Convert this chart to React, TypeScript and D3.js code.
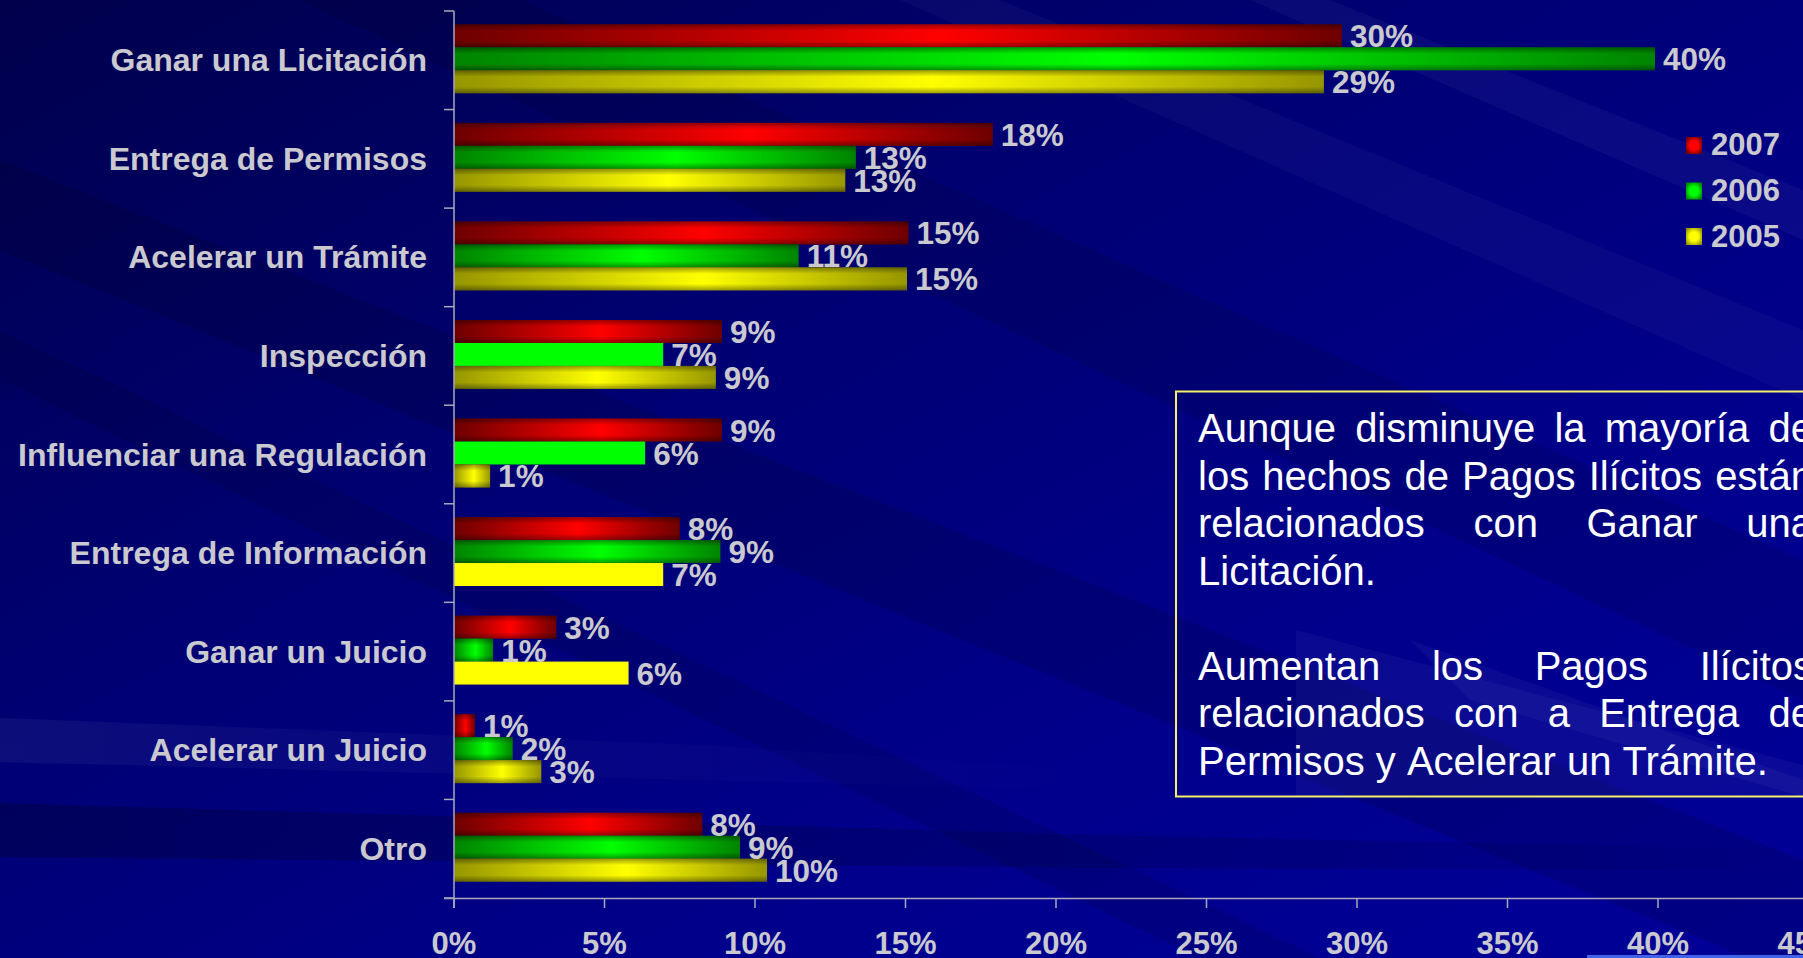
import React, { useMemo } from "react";
import * as d3 from "d3";

// ---------- data ----------
const categories = [
  "Ganar una Licitación",
  "Entrega de Permisos",
  "Acelerar un Trámite",
  "Inspección",
  "Influenciar una Regulación",
  "Entrega de Información",
  "Ganar un Juicio",
  "Acelerar un Juicio",
  "Otro",
];
const series = ["2007", "2006", "2005"];
const values2007 = [29.5, 17.9, 15.1, 8.9, 8.9, 7.5, 3.4, 0.7, 8.25];
const values2006 = [39.9, 13.35, 11.45, 6.95, 6.35, 8.85, 1.3, 1.95, 9.5];
const values2005 = [28.9, 13.0, 15.05, 8.7, 1.2, 6.95, 5.8, 2.9, 10.4];
const labels2007 = ["30%", "18%", "15%", "9%", "9%", "8%", "3%", "1%", "8%"];
const labels2006 = ["40%", "13%", "11%", "7%", "6%", "9%", "1%", "2%", "9%"];
const labels2005 = ["29%", "13%", "15%", "9%", "1%", "7%", "6%", "3%", "10%"];
const xTicks = [0, 5, 10, 15, 20, 25, 30, 35, 40, 45];
const noteParagraph1 = [
  "Aunque disminuye la mayoría de",
  "los hechos de Pagos Ilícitos están",
  "relacionados con Ganar una",
  "Licitación.",
];
const noteParagraph2 = [
  "Aumentan los Pagos Ilícitos",
  "relacionados con a Entrega de",
  "Permisos y Acelerar un Trámite.",
];

// ---------- styles ----------
const seriesDark = ["#6e0000", "#008400", "#969600"];
const seriesBright = ["#ff0000", "#00ff00", "#ffff00"];
const flatBars = ["3-1", "4-1", "5-2", "6-2"]; // category-series drawn in solid colour
const W = 1803;
const H = 958;
const FONT = "'Liberation Sans', Arial, Helvetica, sans-serif";
const LABEL_COLOR = "#c9c9cf";
const AXIS_COLOR = "#a9a9bd";

let _ctx: CanvasRenderingContext2D | null = null;
function measure(text: string, font: string) {
  if (!_ctx) _ctx = document.createElement("canvas").getContext("2d");
  if (!_ctx) return text.length * 20;
  _ctx.font = font;
  return _ctx.measureText(text).width;
}

export default function App() {
  const valuesBySeries = [values2007, values2006, values2005];
  const labelsBySeries = [labels2007, labels2006, labels2005];

  const x = d3.scaleLinear().domain([0, 45]).range([454, 454 + 45 * 30.1]);
  const y = d3.scaleBand<string>().domain(categories).range([11, 898]).padding(0);
  const step = y.step();
  const barH = step * 0.233;
  const sub = d3.scaleBand<string>().domain(series).range([0, barH * 3]).padding(0);
  const groupOffset = (step - barH * 3) / 2 - 1.5;

  const boundaries = [...categories.map((c) => y(c) as number), 898];

  // note box text layout (justified)
  const noteFont = `40px ${FONT}`;
  const noteLeft = 1198;
  const noteRight = 1813;
  const lineGap = 47.5;
  const noteLines = useMemo(() => {
    const out: { words: { t: string; x: number }[]; y: number }[] = [];
    const paras = [noteParagraph1, noteParagraph2];
    let ly = 442;
    paras.forEach((p, pi) => {
      p.forEach((line, li) => {
        const words = line.split(" ");
        const widths = words.map((w) => measure(w, noteFont));
        const justify = li < p.length - 1 && words.length > 1;
        const space = measure(" ", noteFont);
        const total = widths.reduce((a, b) => a + b, 0);
        const gap = justify ? (noteRight - noteLeft - total) / (words.length - 1) : space;
        let cx = noteLeft;
        const placed = words.map((w, i) => {
          const r = { t: w, x: cx };
          cx += widths[i] + gap;
          return r;
        });
        out.push({ words: placed, y: ly });
        ly += lineGap;
      });
      if (pi === 0) ly += lineGap;
    });
    return out;
  }, []);

  return (
    <svg
      width={W}
      height={H}
      viewBox={`0 0 ${W} ${H}`}
      style={{ position: "absolute", left: 0, top: 0, display: "block" }}
    >
      <defs>
        <linearGradient id="bg" x1="0" y1="0" x2="1" y2="1">
          <stop offset="0" stopColor="#00004c" />
          <stop offset="0.35" stopColor="#000070" />
          <stop offset="0.7" stopColor="#00008c" />
          <stop offset="1" stopColor="#000098" />
        </linearGradient>
        <linearGradient id="fadeR" x1="0" y1="0" x2="1" y2="0">
          <stop offset="0" stopColor="#fff" stopOpacity="0.05" />
          <stop offset="1" stopColor="#fff" stopOpacity="0" />
        </linearGradient>
        <linearGradient id="darkR" x1="0" y1="0" x2="1" y2="0">
          <stop offset="0" stopColor="#000" stopOpacity="0.22" />
          <stop offset="0.75" stopColor="#000" stopOpacity="0.12" />
          <stop offset="1" stopColor="#000" stopOpacity="0" />
        </linearGradient>
        {series.map((s, j) => (
          <linearGradient key={s} id={`h${j}`} x1="0" y1="0" x2="1" y2="0">
            <stop offset="0" stopColor={seriesDark[j]} />
            <stop offset="0.55" stopColor={seriesBright[j]} />
            <stop offset="1" stopColor={seriesDark[j]} />
          </linearGradient>
        ))}
        <linearGradient id="vshade" x1="0" y1="0" x2="0" y2="1">
          <stop offset="0" stopColor="#000" stopOpacity="0.38" />
          <stop offset="0.28" stopColor="#000" stopOpacity="0" />
          <stop offset="0.72" stopColor="#000" stopOpacity="0" />
          <stop offset="1" stopColor="#000" stopOpacity="0.38" />
        </linearGradient>
        {series.map((s, j) => (
          <radialGradient key={s} id={`r${j}`} cx="0.5" cy="0.5" r="0.6">
            <stop offset="0" stopColor={seriesBright[j]} />
            <stop offset="0.45" stopColor={seriesBright[j]} />
            <stop offset="1" stopColor={seriesDark[j]} />
          </radialGradient>
        ))}
      </defs>

      {/* background */}
      <rect x={0} y={0} width={W} height={H} fill="url(#bg)" />
      <g>
        <polygon points="0,160 0,250 1803,980 1803,860" fill="#000" opacity={0.12} />
        <polygon points="0,330 0,380 1200,958 1320,958" fill="#000" opacity={0.1} />
        <polygon points="300,0 520,0 1803,560 1803,700" fill="#000" opacity={0.1} />
        <polygon points="900,0 1000,0 1803,330 1803,400" fill="#fff" opacity={0.03} />
        <polygon points="1250,0 1330,0 1803,190 1803,240" fill="#fff" opacity={0.04} />
        <polygon points="1296,630 1803,765 1803,797 1296,797" fill="#fff" opacity={0.04} />
        <polygon points="1410,640 1803,780 1803,797 1470,700" fill="#fff" opacity={0.04} />
        <polygon points="0,803 1100,835 1803,850 1803,870 1100,868 0,857" fill="url(#darkR)" />
        <polygon points="0,718 700,745 1100,770 1100,790 700,780 0,762" fill="url(#fadeR)" />
      </g>

      {/* bars */}
      {categories.map((c, i) =>
        series.map((s, j) => {
          const v = valuesBySeries[j][i];
          const by = (y(c) as number) + groupOffset + (sub(s) as number);
          const bx = x(0);
          const bw = x(v) - x(0);
          const flat = flatBars.includes(`${i}-${j}`);
          return (
            <g key={`${i}-${j}`}>
              <rect x={bx} y={by} width={bw} height={barH} fill={flat ? seriesBright[j] : `url(#h${j})`} />
              {!flat && <rect x={bx} y={by} width={bw} height={barH} fill="url(#vshade)" />}
            </g>
          );
        })
      )}

      {/* value labels */}
      {categories.map((c, i) =>
        series.map((s, j) => {
          const v = valuesBySeries[j][i];
          const by = (y(c) as number) + groupOffset + (sub(s) as number);
          return (
            <text
              key={`l${i}-${j}`}
              x={x(v) + 8}
              y={by + barH / 2 + 11.5}
              fill={LABEL_COLOR}
              fontFamily={FONT}
              fontWeight="bold"
              fontSize={31.5}
            >
              {labelsBySeries[j][i]}
            </text>
          );
        })
      )}

      {/* axes */}
      <g stroke={AXIS_COLOR} strokeWidth={1.5} fill="none">
        <line x1={x(0)} y1={11} x2={x(0)} y2={908} />
        <line x1={444} y1={898.5} x2={W} y2={898.5} />
        {boundaries.map((b, k) => (
          <line key={`yt${k}`} x1={444} y1={b} x2={x(0)} y2={b} />
        ))}
        {xTicks.map((t) => (
          <line key={`xt${t}`} x1={x(t)} y1={898.5} x2={x(t)} y2={908} />
        ))}
      </g>

      {/* category labels */}
      {categories.map((c) => (
        <text
          key={c}
          x={427}
          y={(y(c) as number) + step / 2 + 11}
          textAnchor="end"
          fill={LABEL_COLOR}
          fontFamily={FONT}
          fontWeight="bold"
          fontSize={32}
        >
          {c}
        </text>
      ))}

      {/* x tick labels */}
      {xTicks.map((t) => (
        <text
          key={`xl${t}`}
          x={x(t)}
          y={954}
          textAnchor="middle"
          fill={LABEL_COLOR}
          fontFamily={FONT}
          fontWeight="bold"
          fontSize={31}
        >
          {`${t}%`}
        </text>
      ))}

      {/* legend */}
      {series.map((s, j) => (
        <g key={`lg${s}`}>
          <rect x={1686} y={137 + j * 45.5} width={16} height={17} fill={`url(#r${j})`} />
          <text
            x={1711}
            y={155 + j * 46}
            fill={LABEL_COLOR}
            fontFamily={FONT}
            fontWeight="bold"
            fontSize={31}
          >
            {s}
          </text>
        </g>
      ))}

      {/* note box */}
      <rect x={1176} y={391.5} width={700} height={405} fill="none" stroke="#f4f06a" strokeWidth={2} />
      {noteLines.map((ln, k) => (
        <text key={`n${k}`} y={ln.y} fill="#ffffff" fontFamily={FONT} fontSize={40}>
          {ln.words.map((w, wi) => (
            <tspan key={wi} x={w.x}>
              {w.t}
            </tspan>
          ))}
        </text>
      ))}

      {/* slide accent line */}
      <rect x={1587} y={955} width={W - 1587} height={3} fill="#3d63e6" />
    </svg>
  );
}
